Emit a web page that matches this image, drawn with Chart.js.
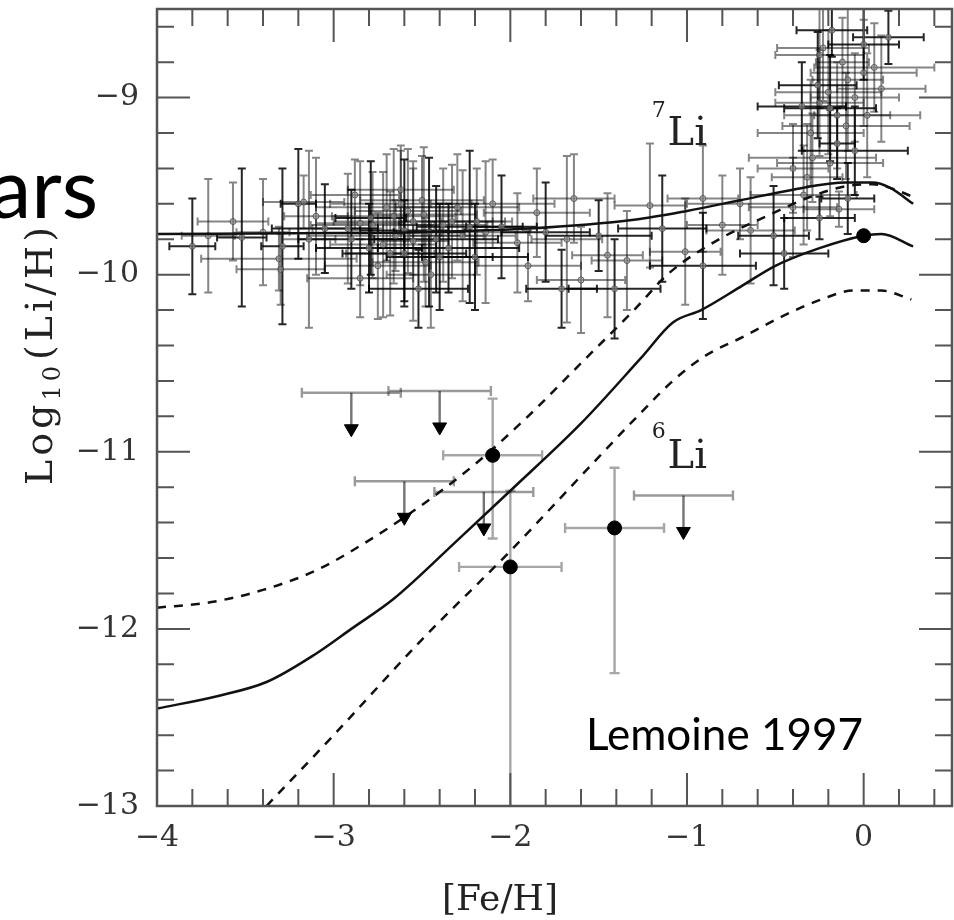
<!DOCTYPE html>
<html>
<head>
<meta charset="utf-8">
<script src="https://cdn.jsdelivr.net/npm/chart.js@4.4.1/dist/chart.umd.min.js"></script>
<style>
html, body { margin: 0; padding: 0; background: #fff; }
canvas { display: block; }
</style>
</head>
<body>
<canvas id="liChart" width="954" height="920"></canvas>
<script>
// 7Li measurements (halo + disk stars)
const li7X    = [-3.80,-3.71,-3.57,-3.52,-3.40,-3.31,-3.29,-3.30,-3.17,-3.20,-3.14,-3.10,-3.05,
                 -2.92,-2.85,-2.79,-2.72,-2.66,-2.60,-2.55,-2.49,-2.46,-2.38,-2.27,-2.23,-2.19,-2.14,-2.05,-1.96,
                 -2.70,-2.60,-2.75,-2.50,-2.40,-2.65,-2.30,-2.80,-2.55,-2.45,-2.35,-2.88,-2.62,-2.20,-2.10,-2.85,-2.52,
                 -2.78,-2.58,-2.42,-2.68,-2.33,-2.90,-2.48,-2.62,
                 -1.80,-1.68,-1.64,-1.71,-1.60,-1.45,-1.41,-1.34,-1.21,-1.14,-1.01,-0.91,-0.91,-0.80,-1.90,-1.50,-1.85,
                 -0.64,-0.51,-0.40,-0.34,-0.25,-0.14,-0.70,-0.45,
                 -0.23,-0.25,0.14,0.06,0.00,-0.26,-0.20,-0.25,-0.19,-0.15,-0.10,-0.15,-0.29,-0.19,-0.09,-0.32,-0.09,0.00,-0.05,-0.12,
                 -0.35,-0.30,0.10,-0.05,-0.40,0.02,-0.18];
const li7Y    = [-9.84,-9.78,-9.70,-9.79,-9.76,-9.91,-9.84,-9.97,-9.59,-9.60,-9.80,-9.67,-9.74,
                 -9.74,-9.71,-9.68,-9.83,-9.67,-9.75,-9.81,-9.66,-9.76,-9.72,-9.78,-9.73,-9.70,-9.76,-9.73,-9.82,
                 -9.62,-9.88,-9.95,-9.58,-9.90,-9.78,-9.62,-9.85,-9.70,-10.00,-9.85,-9.55,-9.52,-9.90,-9.60,-10.02,-10.08,
                 -9.72,-9.64,-9.80,-9.88,-9.70,-9.80,-9.93,-9.60,
                 -9.76,-9.80,-9.57,-10.08,-10.03,-9.89,-10.08,-9.92,-9.61,-9.74,-9.87,-9.57,-9.95,-9.72,-9.95,-9.78,-9.65,
                 -9.75,-9.78,-9.62,-9.55,-9.68,-9.63,-9.60,-9.88,
                 -8.72,-8.76,-8.66,-8.83,-8.86,-8.93,-8.97,-9.03,-9.06,-9.10,-9.16,-9.26,-9.34,-9.37,-9.57,-9.45,-8.90,-8.70,-9.00,-8.80,
                 -9.05,-9.20,-8.95,-9.30,-9.40,-9.10,-8.62];
const li7Xerr = [0.13,0.15,0.20,0.14,0.15,0.44,0.12,0.25,0.23,0.10,0.15,0.18,0.30,
                 0.20,0.25,0.20,0.30,0.35,0.25,0.20,0.30,0.20,0.25,0.30,0.30,0.20,0.25,0.20,0.25,
                 0.40,0.35,0.30,0.35,0.30,0.50,0.35,0.30,0.45,0.25,0.40,0.25,0.30,0.30,0.35,0.30,0.28,
                 0.35,0.30,0.35,0.25,0.30,0.30,0.30,0.40,
                 0.25,0.20,0.23,0.20,0.25,0.20,0.26,0.20,0.20,0.25,0.20,0.20,0.30,0.20,0.30,0.30,0.30,
                 0.25,0.20,0.25,0.30,0.20,0.20,0.30,0.25,
                 0.26,0.25,0.20,0.34,0.30,0.22,0.30,0.25,0.26,0.30,0.36,0.10,0.36,0.30,0.15,0.20,0.20,0.20,0.25,0.15,
                 0.25,0.30,0.25,0.30,0.20,0.30,0.20];
const li7Yerr = [0.27,0.32,0.22,0.39,0.30,0.18,0.44,0.20,0.15,0.31,0.50,0.33,0.25,
                 0.31,0.35,0.32,0.41,0.38,0.40,0.45,0.38,0.42,0.32,0.37,0.43,0.30,0.40,0.29,0.28,
                 0.30,0.30,0.30,0.25,0.30,0.20,0.30,0.25,0.30,0.30,0.25,0.20,0.25,0.30,0.25,0.22,0.22,
                 0.30,0.35,0.30,0.35,0.32,0.28,0.25,0.30,
                 0.28,0.47,0.25,0.22,0.30,0.35,0.28,0.28,0.35,0.30,0.30,0.30,0.30,0.28,0.20,0.20,0.25,
                 0.30,0.28,0.28,0.28,0.12,0.10,0.20,0.20,
                 0.30,0.30,0.15,0.25,0.30,0.30,0.35,0.30,0.30,0.30,0.30,0.20,0.25,0.30,0.20,0.30,0.40,0.20,0.25,0.25,
                 0.25,0.30,0.30,0.25,0.25,0.35,0.15];

// 6Li detections
const li6X       = [-2.10, -2.00, -1.41, 0.00];
const li6Y       = [-11.02, -11.65, -11.43, -9.78];
const li6Xerr    = [0.28, 0.29, 0.28, 0];
const li6ErrUp   = [0.32, 0.43, 0.34, 0];
const li6ErrDown = [0.47, 1.60, 0.82, 0];

// 6Li upper limits
const ulX    = [-2.90, -2.40, -2.60, -2.15, -1.02];
const ulY    = [-10.87, -10.86, -11.37, -11.43, -11.45];
const ulXerr = [0.28, 0.29, 0.28, 0.28, 0.28];

// model curves
const solid7X = [-4.0, -3.0, -2.5, -1.9, -1.3, -1.0, -0.7, -0.4, -0.1, 0.05, 0.15, 0.28];
const solid7Y = [-9.77, -9.765, -9.76, -9.74, -9.69, -9.64, -9.58, -9.52, -9.48, -9.48, -9.51, -9.60];
const dashUpX = [-4.0, -3.7, -3.4, -3.1, -2.8, -2.5, -2.2, -1.9, -1.6, -1.3, -1.1, -0.8, -0.55, -0.3, -0.1, 0.05, 0.15, 0.30];
const dashUpY = [-11.88, -11.85, -11.78, -11.67, -11.50, -11.30, -11.07, -10.80, -10.50, -10.20, -9.99, -9.79, -9.67, -9.56, -9.50, -9.49, -9.51, -9.57];
const solid6X = [-4.0, -3.66, -3.38, -3.1, -2.9, -2.66, -2.3, -2.0, -1.6, -1.26, -1.08, -0.92, -0.7, -0.5, -0.25, 0.0, 0.1, 0.28];
const solid6Y = [-12.45, -12.38, -12.30, -12.14, -12.00, -11.83, -11.50, -11.22, -10.84, -10.47, -10.27, -10.20, -10.07, -9.95, -9.85, -9.78, -9.77, -9.84];
const dashLoX = [-3.38, -3.0, -2.5, -2.0, -1.5, -1.3, -1.08, -0.9, -0.68, -0.45, -0.24, -0.06, 0.1, 0.27];
const dashLoY = [-13.0, -12.6, -12.06, -11.56, -11.03, -10.82, -10.60, -10.46, -10.35, -10.23, -10.14, -10.09, -10.09, -10.14];

function pairs(xs, ys)
{
    return xs.map(function(v, i) { return { x: v, y: ys[i] }; });
}

function minus(v)
{
    return String(v).replace("-", "\u2212");
}

function capLine(ctx, x0, y0, x1, y1, cap)
{
    ctx.beginPath();
    ctx.moveTo(x0, y0);
    ctx.lineTo(x1, y1);
    if (y0 === y1)
    {
        ctx.moveTo(x0, y0 - cap); ctx.lineTo(x0, y0 + cap);
        ctx.moveTo(x1, y1 - cap); ctx.lineTo(x1, y1 + cap);
    }
    else
    {
        ctx.moveTo(x0 - cap, y0); ctx.lineTo(x0 + cap, y0);
        ctx.moveTo(x1 - cap, y1); ctx.lineTo(x1 + cap, y1);
    }
    ctx.stroke();
}

// error bars, drawn under the markers and curves
const errorBars = {
    id: "errorBars",
    beforeDatasetsDraw: function(chart)
    {
        const ctx = chart.ctx, a = chart.chartArea;
        const xs = chart.scales.x, ys = chart.scales.y;
        ctx.save();
        ctx.beginPath();
        ctx.rect(a.left, a.top, a.right - a.left, a.bottom - a.top);
        ctx.clip();

        ctx.lineWidth = 2;
        li7X.forEach(function(v, i)
        {
            ctx.strokeStyle = (i % 3 === 0) ? "rgba(0,0,0,0.85)" : "rgba(0,0,0,0.48)";
            const px = xs.getPixelForValue(v), py = ys.getPixelForValue(li7Y[i]);
            capLine(ctx, xs.getPixelForValue(v - li7Xerr[i]), py, xs.getPixelForValue(v + li7Xerr[i]), py, 4);
            capLine(ctx, px, ys.getPixelForValue(li7Y[i] + li7Yerr[i]), px, ys.getPixelForValue(li7Y[i] - li7Yerr[i]), 4);
        });

        ctx.strokeStyle = "rgba(0,0,0,0.35)";
        ctx.lineWidth = 2.4;
        li6X.forEach(function(v, i)
        {
            if (li6Xerr[i] === 0) return;
            const px = xs.getPixelForValue(v), py = ys.getPixelForValue(li6Y[i]);
            capLine(ctx, xs.getPixelForValue(v - li6Xerr[i]), py, xs.getPixelForValue(v + li6Xerr[i]), py, 5);
            capLine(ctx, px, ys.getPixelForValue(li6Y[i] + li6ErrUp[i]), px, ys.getPixelForValue(li6Y[i] - li6ErrDown[i]), 5);
        });

        ulX.forEach(function(v, i)
        {
            const px = xs.getPixelForValue(v), py = ys.getPixelForValue(ulY[i]);
            const top = py - 36;
            ctx.strokeStyle = "rgba(0,0,0,0.4)";
            capLine(ctx, xs.getPixelForValue(v - ulXerr[i]), top, xs.getPixelForValue(v + ulXerr[i]), top, 5);
            ctx.strokeStyle = "rgba(0,0,0,0.55)";
            ctx.beginPath(); ctx.moveTo(px, top); ctx.lineTo(px, py); ctx.stroke();
        });
        ctx.restore();
    }
};

// frame with inward ticks on all four sides, titles and labels
const frameAndText = {
    id: "frameAndText",
    afterDraw: function(chart)
    {
        const ctx = chart.ctx, a = chart.chartArea;
        const xs = chart.scales.x, ys = chart.scales.y;
        ctx.save();
        ctx.strokeStyle = "#555";
        ctx.lineWidth = 2;
        ctx.beginPath();
        for (let k = 1; k <= 22; k++)
        {
            const px = xs.getPixelForValue(-4 + k * 0.2);
            const len = (k % 5 === 0) ? 33 : 17;
            ctx.moveTo(px, a.bottom); ctx.lineTo(px, a.bottom - len);
            ctx.moveTo(px, a.top); ctx.lineTo(px, a.top + len);
        }
        for (let k = 1; k <= 22; k++)
        {
            const py = ys.getPixelForValue(-13 + k * 0.2);
            const len = (k % 5 === 0) ? 33 : 17;
            ctx.moveTo(a.left, py); ctx.lineTo(a.left + len, py);
            ctx.moveTo(a.right, py); ctx.lineTo(a.right - len, py);
        }
        ctx.stroke();
        ctx.lineWidth = 2.5;
        ctx.strokeRect(a.left, a.top, a.right - a.left, a.bottom - a.top);

        ctx.fillStyle = "#222";
        // x title
        ctx.font = "36px 'DejaVu Serif'";
        ctx.textAlign = "center";
        ctx.textBaseline = "alphabetic";
        ctx.fillText("[Fe/H]", 500, 910);

        // y title, rotated, with subscript
        ctx.save();
        ctx.translate(52, 485);
        ctx.rotate(-Math.PI / 2);
        ctx.textAlign = "left";
        ctx.letterSpacing = "4px";
        ctx.font = "38px 'DejaVu Serif'";
        let w = ctx.measureText("Log").width;
        ctx.fillText("Log", 0, 0);
        ctx.font = "24px 'DejaVu Serif'";
        ctx.fillText("10", w, 8);
        w += ctx.measureText("10").width + 2;
        ctx.font = "38px 'DejaVu Serif'";
        ctx.fillText("(Li/H)", w, 0);
        ctx.restore();

        // isotope labels
        ctx.textAlign = "left";
        ctx.font = "40px 'DejaVu Serif'";
        ctx.fillText("Li", xs.getPixelForValue(-1.11), ys.getPixelForValue(-9.27));
        ctx.fillText("Li", xs.getPixelForValue(-1.11), ys.getPixelForValue(-11.09));
        ctx.font = "22px 'DejaVu Serif'";
        ctx.fillText("7", xs.getPixelForValue(-1.2), ys.getPixelForValue(-9.11));
        ctx.fillText("6", xs.getPixelForValue(-1.2), ys.getPixelForValue(-10.92));

        // slide texts
        ctx.fillStyle = "#000";
        ctx.font = "44px Lato";
        ctx.textAlign = "right";
        ctx.fillText("Lemoine 1997", 863, 750);
        ctx.font = "84px Lato";
        ctx.fillText("ars", 98, 218);
        ctx.restore();
    }
};

const canvas = document.getElementById("liChart");
const tickFont = { family: "'DejaVu Serif'", size: 30 };

new Chart(canvas.getContext("2d"),
{
    type: "scatter",
    data:
    {
        datasets: [
            {
                label: "6Li upper limits",
                data: pairs(ulX, ulY),
                pointStyle: "triangle",
                rotation: 180,
                pointRadius: 8,
                backgroundColor: "#000",
                borderColor: "#000"
            },
            {
                label: "6Li",
                data: pairs(li6X, li6Y),
                pointRadius: 7,
                backgroundColor: "#000",
                borderColor: "#000"
            },
            {
                type: "line",
                label: "7Li model",
                data: pairs(solid7X, solid7Y),
                borderColor: "#111",
                borderWidth: 2.5,
                pointRadius: 0,
                cubicInterpolationMode: "monotone"
            },
            {
                type: "line",
                label: "upper",
                data: pairs(dashUpX, dashUpY),
                borderColor: "#111",
                borderWidth: 2.5,
                borderDash: [9, 8],
                pointRadius: 0,
                cubicInterpolationMode: "monotone"
            },
            {
                type: "line",
                label: "6Li model",
                data: pairs(solid6X, solid6Y),
                borderColor: "#111",
                borderWidth: 2.5,
                pointRadius: 0,
                cubicInterpolationMode: "monotone"
            },
            {
                type: "line",
                label: "lower",
                data: pairs(dashLoX, dashLoY),
                borderColor: "#111",
                borderWidth: 2.5,
                borderDash: [9, 8],
                pointRadius: 0,
                cubicInterpolationMode: "monotone"
            },
            {
                label: "7Li",
                data: pairs(li7X, li7Y),
                pointRadius: 3,
                backgroundColor: "rgba(150,150,150,0.6)",
                borderColor: "rgba(60,60,60,0.7)",
                borderWidth: 1
            }
        ]
    },
    options:
    {
        responsive: false,
        animation: false,
        layout: { autoPadding: false, padding: { left: 0, right: 2, top: 9, bottom: 0 } },
        plugins:
        {
            legend: { display: false },
            tooltip: { enabled: false }
        },
        scales:
        {
            x:
            {
                type: "linear",
                min: -4,
                max: 0.5,
                grid: { display: false, drawTicks: false },
                border: { display: false },
                ticks:
                {
                    stepSize: 1,
                    includeBounds: false,
                    padding: 14,
                    color: "#333",
                    font: tickFont,
                    maxRotation: 0,
                    callback: function(v) { return minus(v); }
                },
                afterFit: function(scale)
                {
                    scale.height = 114;
                    scale.paddingLeft = 0;
                    scale.paddingRight = 0;
                }
            },
            y:
            {
                type: "linear",
                min: -13,
                max: -8.5,
                grid: { display: false, drawTicks: false },
                border: { display: false },
                ticks:
                {
                    stepSize: 1,
                    includeBounds: false,
                    padding: 18,
                    color: "#333",
                    font: tickFont,
                    callback: function(v) { return minus(v); }
                },
                afterFit: function(scale)
                {
                    scale.width = 157;
                    scale.paddingTop = 0;
                    scale.paddingBottom = 0;
                }
            }
        }
    },
    plugins: [errorBars, frameAndText]
});
</script>
</body>
</html>
